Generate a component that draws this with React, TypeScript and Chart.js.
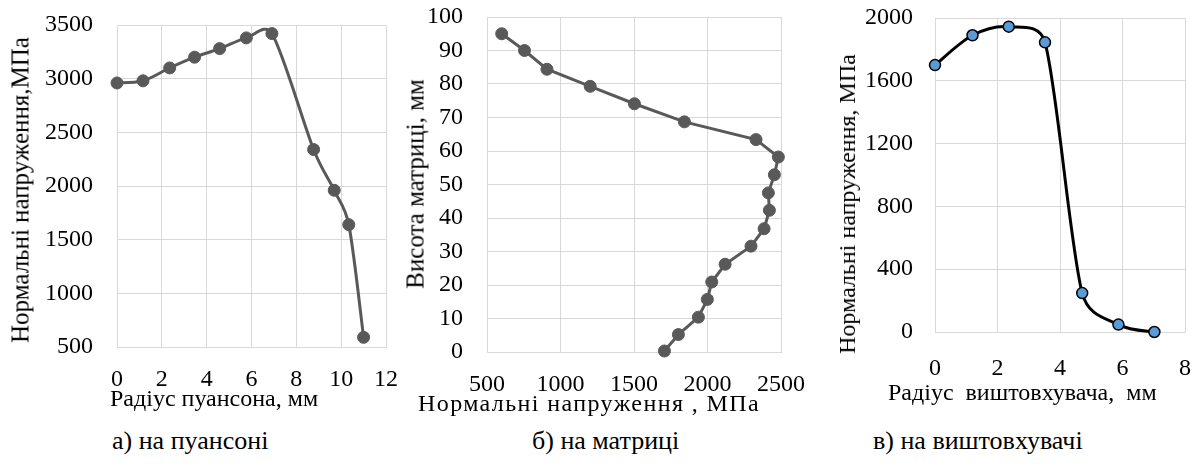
import React, { useEffect, useRef } from "react";
import { Chart, registerables } from "chart.js";

Chart.register(...registerables);

// ---- data: a) punch ----
const punchRadius = [0, 1.16, 2.35, 3.46, 4.58, 5.77, 6.91, 8.77, 9.69, 10.34, 11.0];
const punchStress = [2960, 2980, 3100, 3200, 3280, 3380, 3420, 2340, 1960, 1640, 590];

// ---- data: b) die ----
const dieStress = [600, 755, 908, 1202, 1503, 1843, 2330, 2482, 2455, 2414, 2421, 2385, 2296, 2120, 2029, 1999, 1938, 1802, 1707];
const dieHeight = [95.0, 90.0, 84.4, 79.3, 74.1, 68.7, 63.4, 58.2, 52.9, 47.5, 42.3, 36.8, 31.6, 26.2, 20.9, 15.7, 10.4, 5.2, 0.3];

// ---- data: c) ejector ----
const ejectorRadius = [0, 1.2, 2.36, 3.52, 4.71, 5.87, 7.02];
const ejectorStress = [1700, 1890, 1945, 1845, 248, 47, 0];

// ---- axis ranges / ticks: [min, max, step] ----
const punchXTicks = [0, 12, 2];
const punchYTicks = [500, 3500, 500];
const dieXTicks = [500, 2500, 500];
const dieYTicks = [0, 100, 10];
const ejectorXTicks = [0, 8, 2];
const ejectorYTicks = [0, 2000, 400];

// ---- texts ----
const punchXTitle = "Радіус пуансона, мм";
const punchYTitle = "Нормальні напруження,МПа";
const dieXTitle = "Нормальні напруження , МПа";
const dieYTitle = "Висота матриці, мм";
const ejectorXTitle = "Радіус\u00a0 виштовхувача,\u00a0 мм";
const ejectorYTitle = "Нормальні напруження, МПа";
const captions = ["а) на пуансоні", "б) на матриці", "в) на виштовхувачі"];

const FONT = "'Liberation Serif', 'Times New Roman', Tinos, 'DejaVu Serif', serif";
const GRID = "#d9d9d9";

// Excel-like smoothing: Catmull-Rom tangents (1/6), handle capped at half the segment length
const excelSmooth = {
  id: "excelSmooth",
  beforeDatasetDraw(chart: any, args: any) {
    const cfg = chart.options.plugins.excelSmooth;
    if (!cfg || !cfg.enabled) return;
    const meta = args.meta;
    const pts = meta.data;
    const n = pts.length;
    const dist = (a: any, b: any) => Math.hypot(b.x - a.x, b.y - a.y);
    for (let i = 0; i < n; i++) {
      const p = pts[i];
      const prev = pts[Math.max(0, i - 1)];
      const next = pts[Math.min(n - 1, i + 1)];
      const tx = next.x - prev.x;
      const ty = next.y - prev.y;
      const tl = Math.hypot(tx, ty) || 1;
      const ux = tx / tl;
      const uy = ty / tl;
      const base = tl / 6;
      const lin = Math.min(base, dist(prev, p) / 2);
      const lout = Math.min(base, dist(p, next) / 2);
      p.cp1x = p.x - ux * lin;
      p.cp1y = p.y - uy * lin;
      p.cp2x = p.x + ux * lout;
      p.cp2y = p.y + uy * lout;
    }
    meta.dataset._pointsUpdated = true;
    meta.dataset._path = undefined;
  },
};

type PanelProps = {
  left: number;
  width: number;
  height: number;
  xs: number[];
  ys: number[];
  xt: number[];
  yt: number[];
  yAxisWidth: number;
  xAxisHeight: number;
  padTop: number;
  padRight: number;
  xTickPad: number;
  yTickPad: number;
  lineColor: string;
  pointFill: string;
  pointBorder: string;
  pointBorderWidth: number;
  radius: number;
  smooth: boolean;
};

function Panel(p: PanelProps) {
  const ref = useRef<HTMLCanvasElement | null>(null);
  useEffect(() => {
    if (!ref.current) return;
    const data = p.xs.map((x, i) => ({ x, y: p.ys[i] }));
    const chart = new Chart(ref.current, {
      type: "line",
      data: {
        datasets: [
          {
            data,
            borderColor: p.lineColor,
            borderWidth: 3,
            pointBackgroundColor: p.pointFill,
            pointBorderColor: p.pointBorder,
            pointBorderWidth: p.pointBorderWidth,
            pointRadius: p.radius,
            tension: p.smooth ? 0.3 : 0,
            fill: false,
            clip: false,
          } as any,
        ],
      },
      plugins: [excelSmooth as any],
      options: {
        responsive: false,
        animation: false,
        devicePixelRatio: 1,
        layout: { padding: { top: p.padTop, right: p.padRight, left: 0, bottom: 0 } },
        plugins: {
          legend: { display: false },
          tooltip: { enabled: false },
          excelSmooth: { enabled: p.smooth },
        },
        scales: {
          x: {
            type: "linear",
            min: p.xt[0],
            max: p.xt[1],
            afterFit: (s: any) => {
              s.height = p.xAxisHeight;
            },
            ticks: {
              stepSize: p.xt[2],
              autoSkip: false,
              maxRotation: 0,
              padding: 0,
              color: "#000",
              font: { family: FONT, size: 24 },
              callback: (v: any) => String(v),
            },
            grid: {
              color: GRID,
              lineWidth: 1,
              drawTicks: true,
              tickLength: p.xTickPad,
              tickColor: "rgba(0,0,0,0)",
            },
            border: { color: GRID },
          },
          y: {
            type: "linear",
            min: p.yt[0],
            max: p.yt[1],
            afterFit: (s: any) => {
              s.width = p.yAxisWidth;
            },
            ticks: {
              stepSize: p.yt[2],
              autoSkip: false,
              padding: 0,
              color: "#000",
              font: { family: FONT, size: 24 },
              callback: (v: any) => String(v),
            },
            grid: {
              color: GRID,
              lineWidth: 1,
              drawTicks: true,
              tickLength: p.yTickPad,
              tickColor: "rgba(0,0,0,0)",
            },
            border: { color: GRID },
          },
        },
      } as any,
    });
    return () => chart.destroy();
  }, []);
  return (
    <canvas
      ref={ref}
      width={p.width}
      height={p.height}
      style={{ position: "absolute", left: p.left, top: 0, width: p.width, height: p.height }}
    />
  );
}

const textBase: React.CSSProperties = {
  position: "absolute",
  fontFamily: FONT,
  fontSize: 24,
  lineHeight: "24px",
  color: "#000",
  whiteSpace: "pre",
};

function VTitle({ text, cx, cy, size = 24 }: { text: string; cx: number; cy: number; size?: number }) {
  return (
    <div
      style={{
        ...textBase,
        fontSize: size,
        lineHeight: `${size}px`,
        left: cx,
        top: cy,
        transform: "translate(-50%, -50%) rotate(-90deg)",
      }}
    >
      {text}
    </div>
  );
}

const captionStyle: React.CSSProperties = { ...textBase, fontSize: 26, lineHeight: "26px", top: 428 };

export default function App() {
  return (
    <div
      style={{
        position: "absolute",
        left: 0,
        top: 0,
        width: 1197,
        height: 467,
        background: "#fff",
        overflow: "hidden",
      }}
    >
      <Panel
        left={0}
        width={400}
        height={400}
        xs={punchRadius}
        ys={punchStress}
        xt={punchXTicks}
        yt={punchYTicks}
        yAxisWidth={117}
        xAxisHeight={53}
        padTop={25}
        padRight={14}
        xTickPad={18}
        yTickPad={24}
        lineColor="#595959"
        pointFill="#595959"
        pointBorder="#595959"
        pointBorderWidth={1}
        radius={6}
        smooth={true}
      />
      <Panel
        left={395}
        width={420}
        height={400}
        xs={dieStress}
        ys={dieHeight}
        xt={dieXTicks}
        yt={dieYTicks}
        yAxisWidth={92}
        xAxisHeight={48}
        padTop={17}
        padRight={34}
        xTickPad={18}
        yTickPad={24}
        lineColor="#595959"
        pointFill="#595959"
        pointBorder="#595959"
        pointBorderWidth={1}
        radius={6}
        smooth={false}
      />
      <Panel
        left={797}
        width={400}
        height={400}
        xs={ejectorRadius}
        ys={ejectorStress}
        xt={ejectorXTicks}
        yt={ejectorYTicks}
        yAxisWidth={138}
        xAxisHeight={68}
        padTop={18}
        padRight={12}
        xTickPad={22}
        yTickPad={22}
        lineColor="#000"
        pointFill="#5B9BD5"
        pointBorder="#000"
        pointBorderWidth={1.5}
        radius={5.5}
        smooth={true}
      />

      <VTitle text={punchYTitle} cx={20} cy={190} size={25} />
      <VTitle text={dieYTitle} cx={415} cy={184} size={25} />
      <VTitle text={ejectorYTitle} cx={847} cy={204} />

      <div style={{ ...textBase, left: 110, top: 386 }}>{punchXTitle}</div>
      <div style={{ ...textBase, left: 418, top: 391, letterSpacing: "1.4px" }}>{dieXTitle}</div>
      <div style={{ ...textBase, left: 888, top: 380 }}>{ejectorXTitle}</div>

      <div style={{ ...captionStyle, left: 112 }}>{captions[0]}</div>
      <div style={{ ...captionStyle, left: 532 }}>{captions[1]}</div>
      <div style={{ ...captionStyle, left: 873 }}>{captions[2]}</div>
    </div>
  );
}
